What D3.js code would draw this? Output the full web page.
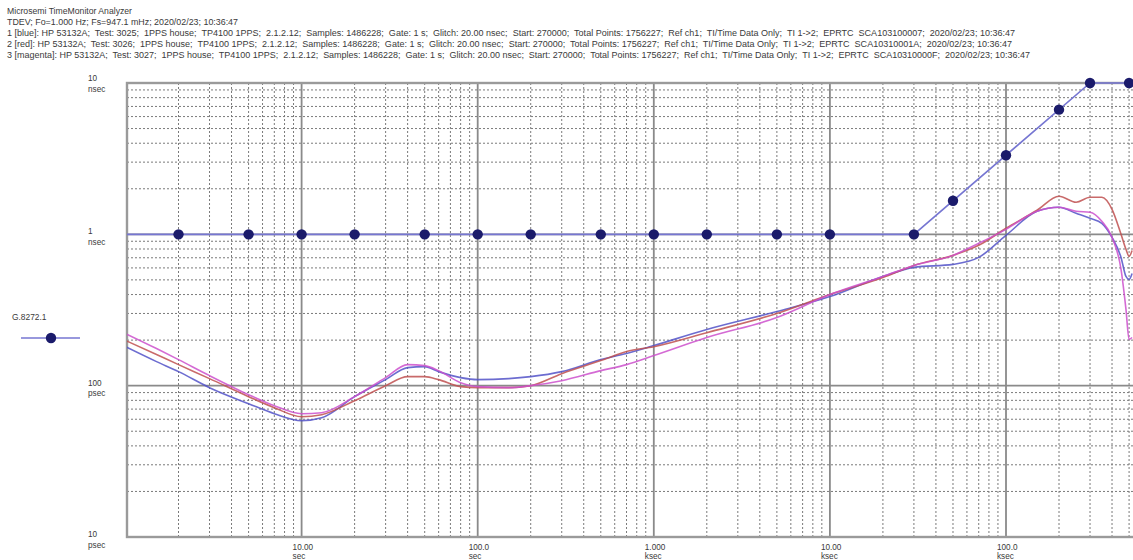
<!DOCTYPE html>
<html><head><meta charset="utf-8">
<script src="https://cdn.jsdelivr.net/npm/d3@7"></script>
<style>
body{margin:0;background:#fff}
svg{display:block}
text{font-family:"Liberation Sans",Arial,sans-serif;fill:#3a3a3a}
</style>
</head><body>
<svg id="c" width="1133" height="560"></svg>
<script>
// ---------- data ----------
const headerLines = [
  "Microsemi TimeMonitor Analyzer",
  "TDEV; Fo=1.000 Hz; Fs=947.1 mHz; 2020/02/23; 10:36:47",
  "1 [blue]: HP 53132A;  Test: 3025;  1PPS house;  TP4100 1PPS;  2.1.2.12;  Samples: 1486228;  Gate: 1 s;  Glitch: 20.00 nsec;  Start: 270000;  Total Points: 1756227;  Ref ch1;  TI/Time Data Only;  TI 1->2;  EPRTC  SCA103100007;  2020/02/23; 10:36:47",
  "2 [red]: HP 53132A;  Test: 3026;  1PPS house;  TP4100 1PPS;  2.1.2.12;  Samples: 1486228;  Gate: 1 s;  Glitch: 20.00 nsec;  Start: 270000;  Total Points: 1756227;  Ref ch1;  TI/Time Data Only;  TI 1->2;  EPRTC  SCA10310001A;  2020/02/23; 10:36:47",
  "3 [magenta]: HP 53132A;  Test: 3027;  1PPS house;  TP4100 1PPS;  2.1.2.12;  Samples: 1486228;  Gate: 1 s;  Glitch: 20.00 nsec;  Start: 270000;  Total Points: 1756227;  Ref ch1;  TI/Time Data Only;  TI 1->2;  EPRTC  SCA10310000F;  2020/02/23; 10:36:47"
];
const headerWidths = [125, 231, 1008, 1005, 1023];

const tau = [1,1.5,2,3,5,7,10,13,20,30,40,50,60,80,100,150,200,300,500,700,1000,2000,5000,10000,20000,30000,50000,70000,100000,150000,200000,250000,300000,350000,400000,450000,480000,500000,520000];
const blueNs = [0.181,0.1442,0.1238,0.0970,0.0760,0.0653,0.0587,0.0614,0.0846,0.1096,0.1316,0.1336,0.1238,0.1130,0.1096,0.1113,0.1147,0.1238,0.1487,0.1629,0.184,0.235,0.309,0.388,0.527,0.605,0.633,0.704,0.985,1.420,1.510,1.377,1.276,1.183,0.955,0.704,0.527,0.504,0.552];
const redNs = [0.199,0.1605,0.1377,0.1113,0.0846,0.0715,0.0623,0.0643,0.0796,0.1000,0.1147,0.1147,0.1096,0.0985,0.0970,0.0970,0.1000,0.1201,0.1464,0.168,0.181,0.224,0.300,0.400,0.519,0.623,0.726,0.846,1.096,1.442,1.785,1.629,1.758,1.758,1.464,1.000,0.796,0.715,0.783];
const magentaNs = [0.221,0.176,0.1487,0.1165,0.0872,0.0737,0.0653,0.0663,0.0846,0.1130,0.1377,0.1357,0.1257,0.1047,0.0985,0.0970,0.1000,0.1079,0.1257,0.1377,0.158,0.208,0.282,0.400,0.527,0.623,0.726,0.872,1.079,1.420,1.510,1.420,1.398,1.219,0.955,0.586,0.319,0.202,0.208];

const maskTau = [1, 30000, 300000, 1000000];
const maskNs = [1, 1, 10, 10];
const markerTau = [2,5,10,20,50,100,200,500,1000,2000,5000,10000,30000,50000,100000,200000,300000,500000];
const markerNs = [1,1,1,1,1,1,1,1,1,1,1,1,1,1.667,3.333,6.667,10,10];

const xTickValues = [10,100,1000,10000,100000];
const xTickLabels = [["10.00","sec"],["100.0","sec"],["1.000","ksec"],["10.00","ksec"],["100.0","ksec"]];
const yTickValues = [10,1,0.1,0.01];
const yTickLabels = [["10","nsec"],["1","nsec"],["100","psec"],["10","psec"]];
const legendLabel = "G.8272.1";

// ---------- layout ----------
const W = 1133, H = 560;
const plotL = 127, plotT = 83, plotB = 537, plotR = 1140;
const x = d3.scaleLog().domain([1, 1e6]).range([125.5, 125.5 + 6 * 176.1]);
const y = d3.scaleLog().domain([0.01, 10]).range([537, 83]);

const svg = d3.select("#c");
svg.append("rect").attr("width", W).attr("height", H).attr("fill", "#fff");

svg.append("defs").append("clipPath").attr("id", "clip")
  .append("rect").attr("x", plotL).attr("y", plotT - 8).attr("width", W - plotL).attr("height", plotB - plotT + 16);

// header
const hdr = svg.append("g");
headerLines.forEach((t, i) => {
  hdr.append("text")
    .attr("x", 7).attr("y", 13.5 + i * 11)
    .attr("font-size", 8.4)
    .attr("textLength", headerWidths[i])
    .attr("lengthAdjust", "spacingAndGlyphs")
    .style("white-space", "pre")
    .text(t);
});

// grid
const grid = svg.append("g");
const minorX = [], minorY = [];
for (let d = 1; d < 1e6; d *= 10) for (let k = 2; k <= 9; k++) if (x(d * k) < W) minorX.push(d * k);
for (let d = 0.01; d < 9; d *= 10) for (let k = 2; k <= 9; k++) minorY.push(d * k);

grid.selectAll(".mx").data(minorX).join("line")
  .attr("x1", d => x(d)).attr("x2", d => x(d))
  .attr("y1", plotT).attr("y2", plotB)
  .attr("stroke", "#7a7a7a").attr("stroke-width", 1).attr("stroke-dasharray", "2,2");
grid.selectAll(".my").data(minorY).join("line")
  .attr("x1", plotL).attr("x2", W)
  .attr("y1", d => y(d)).attr("y2", d => y(d))
  .attr("stroke", "#7a7a7a").attr("stroke-width", 1).attr("stroke-dasharray", "2,2");

grid.selectAll(".Mx").data(xTickValues).join("line")
  .attr("x1", d => x(d)).attr("x2", d => x(d))
  .attr("y1", plotT).attr("y2", plotB)
  .attr("stroke", "#8a8a8a").attr("stroke-width", 1.8);
grid.selectAll(".My").data([1, 0.1]).join("line")
  .attr("x1", plotL).attr("x2", W)
  .attr("y1", d => y(d)).attr("y2", d => y(d))
  .attr("stroke", "#8a8a8a").attr("stroke-width", 1.8);

// frame
svg.append("rect")
  .attr("x", plotL).attr("y", plotT)
  .attr("width", plotR - plotL).attr("height", plotB - plotT)
  .attr("fill", "none").attr("stroke", "#9a9a9a").attr("stroke-width", 2.4);

// curves
const plot = svg.append("g").attr("clip-path", "url(#clip)");
const line = d3.line().x(d => x(d[0])).y(d => y(d[1])).curve(d3.curveMonotoneX);
const series = [
  {v: blueNs, c: "#5252c8"},
  {v: redNs, c: "#c05050"},
  {v: magentaNs, c: "#cc50cc"}
];
series.forEach(s => {
  plot.append("path")
    .datum(tau.map((t, i) => [t, s.v[i]]))
    .attr("d", line)
    .attr("fill", "none")
    .attr("stroke", s.c)
    .attr("stroke-width", 1.6)
    .attr("stroke-opacity", 0.85);
});

// mask
const maskLine = d3.line().x(d => x(d[0])).y(d => y(d[1]));
plot.append("path")
  .datum(maskTau.map((t, i) => [t, maskNs[i]]))
  .attr("d", maskLine)
  .attr("fill", "none").attr("stroke", "#7676d2").attr("stroke-width", 1.6);
plot.selectAll(".mk").data(markerTau.map((t, i) => [t, markerNs[i]])).join("circle")
  .attr("cx", d => x(d[0])).attr("cy", d => y(d[1])).attr("r", 5.2)
  .attr("fill", "#1b1b6b");

// x labels
const xl = svg.append("g");
xTickValues.forEach((v, i) => {
  const t = xl.append("text").attr("font-size", 8.2);
  t.append("tspan").attr("x", x(v) - 9).attr("y", 550).text(xTickLabels[i][0]);
  t.append("tspan").attr("x", x(v) - 9).attr("y", 559).text(xTickLabels[i][1]);
});

// y labels
const yl = svg.append("g");
yTickValues.forEach((v, i) => {
  const t = yl.append("text").attr("font-size", 8.2);
  const yy = y(v) + (i === 0 ? -2 : 0);
  t.append("tspan").attr("x", 88).attr("y", yy).text(yTickLabels[i][0]);
  t.append("tspan").attr("x", 88).attr("y", yy + 10.5).text(yTickLabels[i][1]);
});

// legend
const lg = svg.append("g");
lg.append("text").attr("x", 12).attr("y", 320).attr("font-size", 8.4).text(legendLabel);
lg.append("line").attr("x1", 21).attr("x2", 80).attr("y1", 338).attr("y2", 338)
  .attr("stroke", "#7676d2").attr("stroke-width", 1.6);
lg.append("circle").attr("cx", 51).attr("cy", 338).attr("r", 5.2).attr("fill", "#1b1b6b");
</script>
</body></html>
